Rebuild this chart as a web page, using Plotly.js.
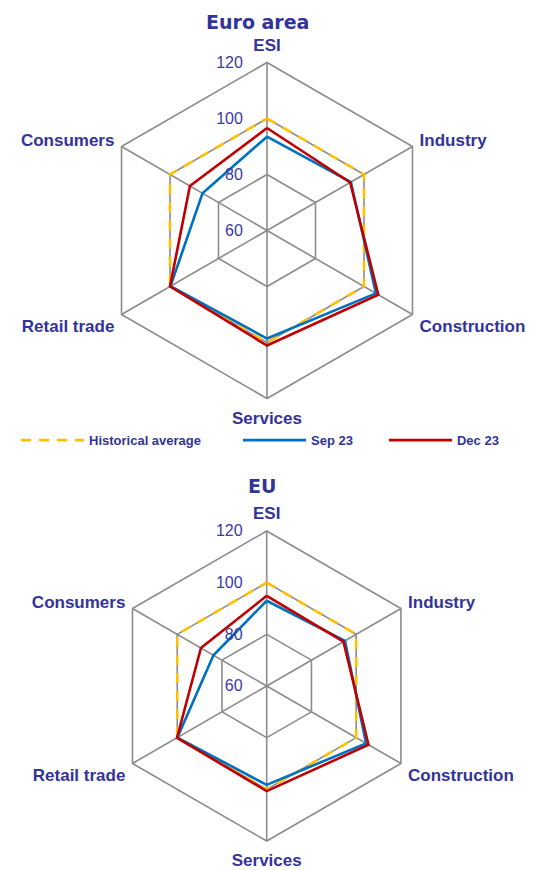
<!DOCTYPE html>
<html>
<head>
<meta charset="utf-8">
<script src="https://cdn.plot.ly/plotly-3.0.1.min.js"></script>
<style>
  html, body { margin: 0; padding: 0; background: #fff; }
  #chart { width: 534px; height: 870px; }
</style>
</head>
<body>
<div id="chart"></div>
<script>
// axes of the radar, clockwise from the top
const categories = ['ESI', 'Industry', 'Construction', 'Services', 'Retail trade', 'Consumers'];

// Euro area
const eaHistorical = [100, 100, 100, 100, 100, 100];
const eaSep23 = [93.5, 94.6, 104.9, 98.6, 99.8, 86.6];
const eaDec23 = [96.6, 94.3, 105.9, 101.1, 100.0, 91.8];

// EU
const euHistorical = [100, 100, 100, 100, 100, 100];
const euSep23 = [93.0, 95.0, 104.4, 98.3, 99.9, 83.8];
const euDec23 = [94.9, 94.3, 105.5, 100.7, 100.1, 89.4];

const navy = '#333399';
const gridGrey = '#8c8c8c';

// close the polygon by repeating the first point
function closed (arr) {
  return arr.concat([arr[0]]);
}

function series (values, name, color, dash, subplot, legendId) {
  return {
    type: 'scatterpolar',
    mode: 'lines',
    r: closed(values),
    theta: closed(categories),
    name: name,
    subplot: subplot,
    showlegend: !!legendId,
    legend: legendId || 'legend',
    line: { color: color, width: 2.6, dash: dash },
    hoverinfo: 'skip'
  };
}

const data = [
  series(eaHistorical, 'Historical average', '#ffc000', '10px,8px', 'polar', 'legend'),
  series(eaSep23, 'Sep 23', '#0070c0', 'solid', 'polar', 'legend2'),
  series(eaDec23, 'Dec 23', '#c00000', 'solid', 'polar', 'legend3'),
  series(euHistorical, 'Historical average', '#ffc000', '10px,8px', 'polar2', null),
  series(euSep23, 'Sep 23', '#0070c0', 'solid', 'polar2', null),
  series(euDec23, 'Dec 23', '#c00000', 'solid', 'polar2', null)
];

function polarLayout (xDomain, yDomain) {
  return {
    domain: { x: xDomain, y: yDomain },
    gridshape: 'linear',
    bgcolor: 'rgba(0,0,0,0)',
    radialaxis: {
      range: [60, 120],
      dtick: 20,
      tick0: 60,
      angle: 90,
      tickangle: 90,
      side: 'counterclockwise',
      showline: false,
      // invisible ticks push the labels off the axis
      ticks: 'outside',
      ticklen: 18,
      tickcolor: 'rgba(0,0,0,0)',
      gridcolor: gridGrey,
      gridwidth: 1.6,
      tickfont: { family: 'Liberation Sans, Arial, sans-serif', size: 16, color: '#3a3aa6' }
    },
    angularaxis: {
      rotation: 90,
      direction: 'clockwise',
      showline: true,
      linecolor: gridGrey,
      linewidth: 1.6,
      gridcolor: gridGrey,
      gridwidth: 1.6,
      ticks: 'outside',
      ticklen: 4,
      tickcolor: 'rgba(0,0,0,0)',
      tickfont: { family: 'Liberation Sans, Arial, sans-serif', size: 17, color: navy, weight: 'bold' }
    }
  };
}

function legendAt (x) {
  return {
    orientation: 'h',
    x: x,
    y: 0.494,
    yanchor: 'middle',
    xanchor: 'left',
    itemwidth: 63,
    bgcolor: 'rgba(0,0,0,0)',
    font: { family: 'Liberation Sans, Arial, sans-serif', size: 13, color: navy, weight: 'bold' }
  };
}

const layout = {
  width: 534,
  height: 870,
  margin: { l: 0, r: 0, t: 0, b: 0 },
  paper_bgcolor: '#fff',
  showlegend: true,
  polar: polarLayout([0.1854, 0.8146], [0.5420, 0.9282]),
  polar2: polarLayout([0.2092, 0.7897], [0.0333, 0.3897]),
  legend: legendAt(0.030),
  legend2: legendAt(0.4457),
  legend3: legendAt(0.719),
  annotations: [
    {
      text: 'Euro area', x: 0.483, y: 1 - 22 / 870, xref: 'paper', yref: 'paper',
      showarrow: false, xanchor: 'center', yanchor: 'middle',
      font: { family: 'DejaVu Sans, sans-serif', size: 19, color: navy, weight: 'bold' }
    },
    {
      text: 'EU', x: 0.49, y: 1 - 486 / 870, xref: 'paper', yref: 'paper',
      showarrow: false, xanchor: 'center', yanchor: 'middle',
      font: { family: 'DejaVu Sans, sans-serif', size: 19, color: navy, weight: 'bold' }
    }
  ]
};

Plotly.newPlot('chart', data, layout, { displayModeBar: false, staticPlot: true });
</script>
</body>
</html>
